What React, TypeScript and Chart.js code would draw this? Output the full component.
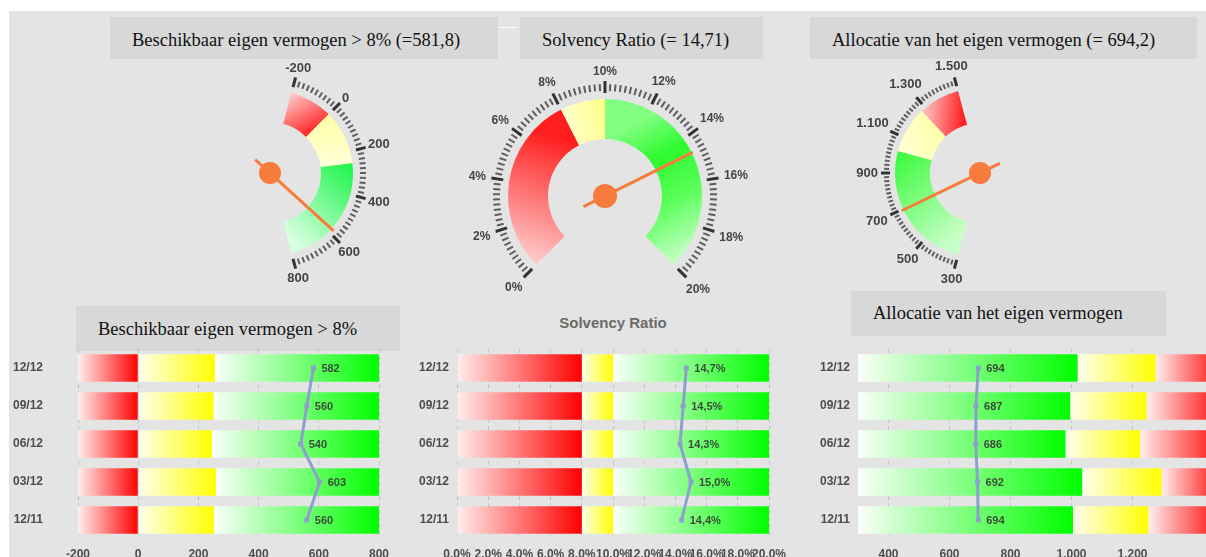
import React, { useEffect, useRef } from 'react';
import { Chart, registerables } from 'chart.js';

Chart.register(...registerables);

// ---------------- DATA ----------------
const PERIODS = ['12/12', '09/12', '06/12', '03/12', '12/11'];

// Beschikbaar eigen vermogen > 8%
const BEV_VALUES = [582, 560, 540, 603, 560];
const BEV_RED_FROM = [-200, -200, -200, -200, -200];
const BEV_RED_TO = [0, 0, 0, 0, 0];
const BEV_YELLOW_TO = [255, 250, 245, 258, 252];
const BEV_GREEN_TO = [800, 800, 800, 800, 800];
const BEV_TICKS = [-200, 0, 200, 400, 600, 800];

// Solvency Ratio (%)
const SR_VALUES = [14.7, 14.5, 14.3, 15.0, 14.4];
const SR_RED_FROM = [0, 0, 0, 0, 0];
const SR_RED_TO = [8, 8, 8, 8, 8];
const SR_YELLOW_TO = [10, 10, 10, 10, 10];
const SR_GREEN_TO = [20, 20, 20, 20, 20];
const SR_TICKS = [0, 2, 4, 6, 8, 10, 12, 14, 16, 18, 20];

// Allocatie van het eigen vermogen
const AEV_VALUES = [694, 687, 686, 692, 694];
const AEV_GREEN_FROM = [300, 300, 300, 300, 300];
const AEV_GREEN_TO = [1020, 996, 980, 1035, 1005];
const AEV_YELLOW_TO = [1275, 1246, 1225, 1295, 1252];
const AEV_RED_TO = [1500, 1500, 1500, 1500, 1500];
const AEV_TICKS = [400, 600, 800, 1000, 1200];

// Gauges
const G1_VALUE = 581.8;
const G1_BANDS = [-200, 0, 255, 800];
const G1_LABELS = [-200, 0, 200, 400, 600, 800];
const G1_MINOR = 20;

const G2_VALUE = 14.71;
const G2_BANDS = [0, 8, 10, 20];
const G2_LABELS = [0, 2, 4, 6, 8, 10, 12, 14, 16, 18, 20];
const G2_MINOR = 0.2;

const G3_VALUE = 694.2;
const G3_BANDS = [300, 1020, 1275, 1500];
const G3_LABELS = [300, 500, 700, 900, 1100, 1300, 1500];
const G3_MINOR = 20;

// ---------------- HELPERS ----------------
const FONT = "'Liberation Sans', Arial, sans-serif";
const SERIF = "'Liberation Serif', 'Times New Roman', serif";
const LABEL_COLOR = '#4d4d4d';
const LINE_COLOR = '#8d9fcd';
const NEEDLE = '#f77b3c';

const nl = (v: number) => {
  const neg = v < 0;
  const a = Math.abs(Math.round(v));
  const s = a >= 1000 ? `${Math.floor(a / 1000)}.${String(a % 1000).padStart(3, '0')}` : String(a);
  return (neg ? '-' : '') + s;
};

type Grad = { v0: number; r0: number; v1: number; r1: number; stops: [number, string][] };
type Geom = {
  cx: number; cy: number; start: number; sweep: number; rIn: number; rOut: number;
  majIn: number; majOut: number; minIn: number; minOut: number; labelR: number;
  tail: number; tip: number; dot: number; fontSize: number;
};

function gaugeConfig(bands: number[], value: number, labels: number[], minorStep: number,
  fmt: (v: number) => string, g: Geom, grads: Grad[]): any {
  const min = bands[0];
  const max = bands[bands.length - 1];
  const ang = (v: number) => ((g.start + (g.sweep * (v - min)) / (max - min)) * Math.PI) / 180;
  const pt = (v: number, r: number): [number, number] => [g.cx + r * Math.cos(ang(v)), g.cy + r * Math.sin(ang(v))];
  return {
    type: 'doughnut',
    data: {
      labels: bands.slice(1).map((_, i) => `band${i}`),
      datasets: [{
        data: bands.slice(1).map((b, i) => b - bands[i]),
        rotation: g.start + 90,
        circumference: g.sweep,
        borderWidth: 0,
        backgroundColor: (c: any) => {
          const s = grads[c.dataIndex];
          if (!s || !c.chart || !c.chart.ctx) return '#cccccc';
          const [x0, y0] = pt(s.v0, s.r0);
          const [x1, y1] = pt(s.v1, s.r1);
          const gr = c.chart.ctx.createLinearGradient(x0, y0, x1, y1);
          s.stops.forEach(([o, col]) => gr.addColorStop(o, col));
          return gr;
        },
      }],
    },
    options: {
      responsive: false,
      animation: false,
      events: [],
      layout: { padding: 0 },
      plugins: { legend: { display: false }, tooltip: { enabled: false } },
    },
    plugins: [{
      id: 'gaugeDial',
      afterDatasetsUpdate(chart: any) {
        const meta = chart.getDatasetMeta(0);
        meta.data.forEach((a: any) => {
          a.x = g.cx; a.y = g.cy; a.innerRadius = g.rIn; a.outerRadius = g.rOut;
        });
      },
      afterDatasetsDraw(chart: any) {
        const ctx = chart.ctx as CanvasRenderingContext2D;
        ctx.save();
        const seg = (p: [number, number], q: [number, number], w: number, col: string) => {
          ctx.beginPath(); ctx.moveTo(p[0], p[1]); ctx.lineTo(q[0], q[1]);
          ctx.lineWidth = w; ctx.strokeStyle = col; ctx.stroke();
        };
        ctx.lineCap = 'butt';
        const n = Math.round((max - min) / minorStep);
        for (let i = 0; i <= n; i++) {
          const v = min + i * minorStep;
          if (labels.some((l) => Math.abs(l - v) < minorStep / 2)) continue;
          seg(pt(v, g.minIn), pt(v, g.minOut), 2, '#5e5e5e');
        }
        labels.forEach((l) => seg(pt(l, g.majIn), pt(l, g.majOut), 3, '#333333'));
        ctx.font = `bold ${g.fontSize}px ${FONT}`;
        ctx.fillStyle = '#444444';
        ctx.textAlign = 'center';
        ctx.textBaseline = 'middle';
        labels.forEach((l) => {
          const t = fmt(l);
          const w = ctx.measureText(t).width;
          const h = g.fontSize * 0.72;
          const a = ang(l);
          const r = g.labelR + 0.5 * (w * Math.abs(Math.cos(a)) + h * Math.abs(Math.sin(a)));
          ctx.fillText(t, g.cx + r * Math.cos(a), g.cy + r * Math.sin(a) + 0.5);
        });
        // needle
        const a = ang(value);
        ctx.beginPath();
        ctx.moveTo(g.cx - g.tail * Math.cos(a), g.cy - g.tail * Math.sin(a));
        ctx.lineTo(g.cx + g.tip * Math.cos(a), g.cy + g.tip * Math.sin(a));
        ctx.lineWidth = 3; ctx.strokeStyle = NEEDLE; ctx.stroke();
        ctx.beginPath();
        ctx.arc(g.cx, g.cy, g.dot, 0, Math.PI * 2);
        ctx.fillStyle = NEEDLE; ctx.fill();
        ctx.restore();
      },
    }],
  };
}

type Seg = { from: number[]; to: number[]; c0: string; c1: string };

function barConfig(p: {
  segs: Seg[]; values: number[]; valueFmt: (v: number) => string;
  min: number; max: number; ticks: number[]; tickFmt: (v: number) => string;
  yw: number; padRight: number; catPad: number;
}): any {
  const datasets: any[] = p.segs.map((s) => ({
    type: 'bar',
    data: s.from.map((f, i) => [f, s.to[i]]),
    backgroundColor: (c: any) => {
      const xs = c.chart && c.chart.scales && c.chart.scales.x;
      if (!xs || !Array.isArray(c.raw)) return s.c1;
      const x0 = xs.getPixelForValue(c.raw[0]);
      const x1 = xs.getPixelForValue(c.raw[1]);
      if (!isFinite(x0) || !isFinite(x1) || x0 === x1) return s.c1;
      const gr = c.chart.ctx.createLinearGradient(x0, 0, x1, 0);
      gr.addColorStop(0, s.c0);
      gr.addColorStop(1, s.c1);
      return gr;
    },
    borderWidth: 0,
    borderSkipped: false,
    grouped: false,
    barPercentage: 0.72,
    categoryPercentage: 1,
    order: 1,
  }));
  datasets.push({
    type: 'line',
    indexAxis: 'y',
    data: p.values,
    borderColor: LINE_COLOR,
    backgroundColor: LINE_COLOR,
    borderWidth: 3,
    pointStyle: 'rect',
    pointRadius: 3.5,
    pointBorderWidth: 0,
    tension: 0,
    order: 0,
  });
  const lineIndex = datasets.length - 1;
  return {
    type: 'bar',
    data: { labels: PERIODS, datasets },
    options: {
      responsive: false,
      animation: false,
      events: [],
      indexAxis: 'y',
      layout: { padding: { top: 10, right: p.padRight, bottom: 0, left: 0 } },
      plugins: { legend: { display: false }, tooltip: { enabled: false } },
      scales: {
        x: {
          type: 'linear',
          min: p.min,
          max: p.max,
          afterBuildTicks: (s: any) => { s.ticks = p.ticks.map((v) => ({ value: v })); },
          afterFit: (s: any) => { s.height = 30; s.paddingLeft = 0; s.paddingRight = 0; },
          grid: { color: 'rgba(0,0,0,0.13)', borderDash: [4, 3], drawTicks: false, lineWidth: 1 },
          border: { display: false, dash: [4, 3] },
          ticks: {
            autoSkip: false, maxRotation: 0, minRotation: 0, padding: 8,
            color: LABEL_COLOR, font: { family: FONT, size: 12, weight: 'bold' },
            callback: (v: any) => p.tickFmt(Number(v)),
          },
        },
        y: {
          type: 'category',
          afterFit: (s: any) => { s.width = p.yw; s.paddingTop = 0; s.paddingBottom = 0; },
          grid: { display: false, drawTicks: false },
          border: { display: false },
          ticks: { padding: p.catPad, color: LABEL_COLOR, font: { family: FONT, size: 12, weight: 'bold' } },
        },
      },
    },
    plugins: [{
      id: 'valueLabels',
      afterDatasetsDraw(chart: any) {
        const ctx = chart.ctx as CanvasRenderingContext2D;
        const meta = chart.getDatasetMeta(lineIndex);
        ctx.save();
        ctx.font = `bold 11px ${FONT}`;
        ctx.fillStyle = 'rgba(55,55,55,0.9)';
        ctx.textAlign = 'left';
        ctx.textBaseline = 'middle';
        meta.data.forEach((pt: any, i: number) => {
          ctx.fillText(p.valueFmt(p.values[i]), pt.x + 8, pt.y + 1);
        });
        ctx.restore();
      },
    }],
  };
}

function ChartCanvas({ left, top, width, height, make }: { left: number; top: number; width: number; height: number; make: () => any }) {
  const ref = useRef<HTMLCanvasElement>(null);
  useEffect(() => {
    const chart = new Chart(ref.current as HTMLCanvasElement, make());
    return () => chart.destroy();
  }, []);
  return (
    <canvas ref={ref} width={width} height={height}
      style={{ position: 'absolute', left, top, width, height, pointerEvents: 'none' }} />
  );
}

function TitleBox({ left, top, width, height, text, shift }: { left: number; top: number; width: number; height: number; text: string; shift: number }) {
  return (
    <div style={{
      position: 'absolute', left, top, width, height, background: '#d8d8d8',
      fontFamily: SERIF, fontSize: 18.5, color: '#111', lineHeight: `${height}px`,
      boxSizing: 'border-box', paddingLeft: 22, whiteSpace: 'nowrap', overflow: 'hidden',
    }}>
      <span style={{ position: 'relative', top: shift }}>{text}</span>
    </div>
  );
}

const redL = 'rgb(255,238,238)';
const yelL = 'rgb(255,255,238)';
const grnL = 'rgb(250,255,250)';

export default function App() {
  return (
    <div style={{ position: 'fixed', left: 0, top: 0, width: 1206, height: 557, overflow: 'hidden', background: '#fff' }}>
      <div style={{ position: 'absolute', left: 9, top: 11, right: 0, bottom: 0, background: '#e4e4e4' }} />
      <div style={{ position: 'absolute', left: 498, top: 27, width: 20, height: 1, background: '#fafafa' }} />

      <TitleBox left={110} top={17} width={388} height={42} shift={2} text="Beschikbaar eigen vermogen > 8% (=581,8)" />
      <TitleBox left={520} top={17} width={243} height={42} shift={2} text="Solvency Ratio (= 14,71)" />
      <TitleBox left={810} top={17} width={387} height={42} shift={2} text="Allocatie van het eigen vermogen (= 694,2)" />
      <TitleBox left={76} top={306} width={324} height={45} shift={1} text="Beschikbaar eigen vermogen > 8%" />
      <TitleBox left={851} top={291} width={315} height={45} shift={0} text="Allocatie van het eigen vermogen" />
      <div style={{
        position: 'absolute', left: 513, top: 313, width: 200, height: 20, lineHeight: '20px',
        textAlign: 'center', fontFamily: FONT, fontWeight: 'bold', fontSize: 15, color: '#6b6b6b',
      }}>Solvency Ratio</div>

      <ChartCanvas left={0} top={0} width={1206} height={557} make={() => gaugeConfig(
        G1_BANDS, G1_VALUE, G1_LABELS, G1_MINOR, nl,
        { cx: 270, cy: 173, start: -75, sweep: 150, rIn: 51, rOut: 83, majIn: 89, majOut: 99, minIn: 90, minOut: 96, labelR: 101, tail: 20, tip: 86, dot: 11, fontSize: 13 },
        [
          { v0: -200, r0: 83, v1: 0, r1: 60, stops: [[0, 'rgb(255,205,205)'], [1, 'rgb(255,45,45)']] },
          { v0: 0, r0: 83, v1: 255, r1: 55, stops: [[0, 'rgb(255,255,165)'], [1, 'rgb(255,255,215)']] },
          { v0: 255, r0: 83, v1: 800, r1: 60, stops: [[0, 'rgb(25,245,70)'], [1, 'rgb(215,255,225)']] },
        ])} />

      <ChartCanvas left={0} top={0} width={1206} height={557} make={() => gaugeConfig(
        G2_BANDS, G2_VALUE, G2_LABELS, G2_MINOR, (v) => `${v}%`,
        { cx: 605, cy: 196, start: 135, sweep: 270, rIn: 57, rOut: 97, majIn: 103, majOut: 115, minIn: 105, minOut: 112, labelR: 120, tail: 24, tip: 98, dot: 12, fontSize: 12 },
        [
          { v0: 0, r0: 97, v1: 8, r1: 57, stops: [[0, 'rgb(255,205,205)'], [1, 'rgb(255,30,30)']] },
          { v0: 8, r0: 80, v1: 10, r1: 80, stops: [[0, 'rgb(255,255,200)'], [1, 'rgb(255,255,140)']] },
          { v0: 10, r0: 57, v1: 20, r1: 97, stops: [[0, 'rgb(130,255,130)'], [0.3, 'rgb(45,250,45)'], [0.6, 'rgb(90,255,90)'], [1, 'rgb(200,255,200)']] },
        ])} />

      <ChartCanvas left={0} top={0} width={1206} height={557} make={() => gaugeConfig(
        G3_BANDS, G3_VALUE, G3_LABELS, G3_MINOR, nl,
        { cx: 980, cy: 173, start: 105, sweep: 150, rIn: 50, rOut: 85, majIn: 90, majOut: 99, minIn: 91, minOut: 96, labelR: 102, tail: 22, tip: 87, dot: 11, fontSize: 13 },
        [
          { v0: 300, r0: 60, v1: 1000, r1: 85, stops: [[0, 'rgb(200,255,200)'], [1, 'rgb(60,250,60)']] },
          { v0: 1020, r0: 85, v1: 1275, r1: 60, stops: [[0, 'rgb(255,255,215)'], [1, 'rgb(255,255,170)']] },
          { v0: 1275, r0: 85, v1: 1500, r1: 60, stops: [[0, 'rgb(255,200,200)'], [1, 'rgb(255,30,30)']] },
        ])} />

      <ChartCanvas left={9} top={339} width={400} height={230} make={() => barConfig({
        segs: [
          { from: BEV_RED_FROM, to: BEV_RED_TO, c0: redL, c1: 'rgb(255,0,0)' },
          { from: BEV_RED_TO, to: BEV_YELLOW_TO, c0: yelL, c1: 'rgb(255,255,0)' },
          { from: BEV_YELLOW_TO, to: BEV_GREEN_TO, c0: grnL, c1: 'rgb(0,255,0)' },
        ],
        values: BEV_VALUES, valueFmt: (v) => nl(v),
        min: -200, max: 800, ticks: BEV_TICKS, tickFmt: nl,
        yw: 69, padRight: 30, catPad: 35,
      })} />

      <ChartCanvas left={400} top={339} width={400} height={230} make={() => barConfig({
        segs: [
          { from: SR_RED_FROM, to: SR_RED_TO, c0: redL, c1: 'rgb(255,0,0)' },
          { from: SR_RED_TO, to: SR_YELLOW_TO, c0: yelL, c1: 'rgb(255,255,0)' },
          { from: SR_YELLOW_TO, to: SR_GREEN_TO, c0: grnL, c1: 'rgb(0,255,0)' },
        ],
        values: SR_VALUES, valueFmt: (v) => `${v.toFixed(1).replace('.', ',')}%`,
        min: 0, max: 20, ticks: SR_TICKS, tickFmt: (v) => `${v.toFixed(1)}%`,
        yw: 57, padRight: 31, catPad: 8,
      })} />

      <ChartCanvas left={800} top={339} width={440} height={230} make={() => barConfig({
        segs: [
          { from: AEV_GREEN_FROM, to: AEV_GREEN_TO, c0: grnL, c1: 'rgb(0,255,0)' },
          { from: AEV_GREEN_TO, to: AEV_YELLOW_TO, c0: yelL, c1: 'rgb(255,255,0)' },
          { from: AEV_YELLOW_TO, to: AEV_RED_TO, c0: redL, c1: 'rgb(255,0,0)' },
        ],
        values: AEV_VALUES, valueFmt: (v) => nl(v),
        min: 300, max: 1500, ticks: AEV_TICKS, tickFmt: nl,
        yw: 58, padRight: 16, catPad: 8,
      })} />
    </div>
  );
}
